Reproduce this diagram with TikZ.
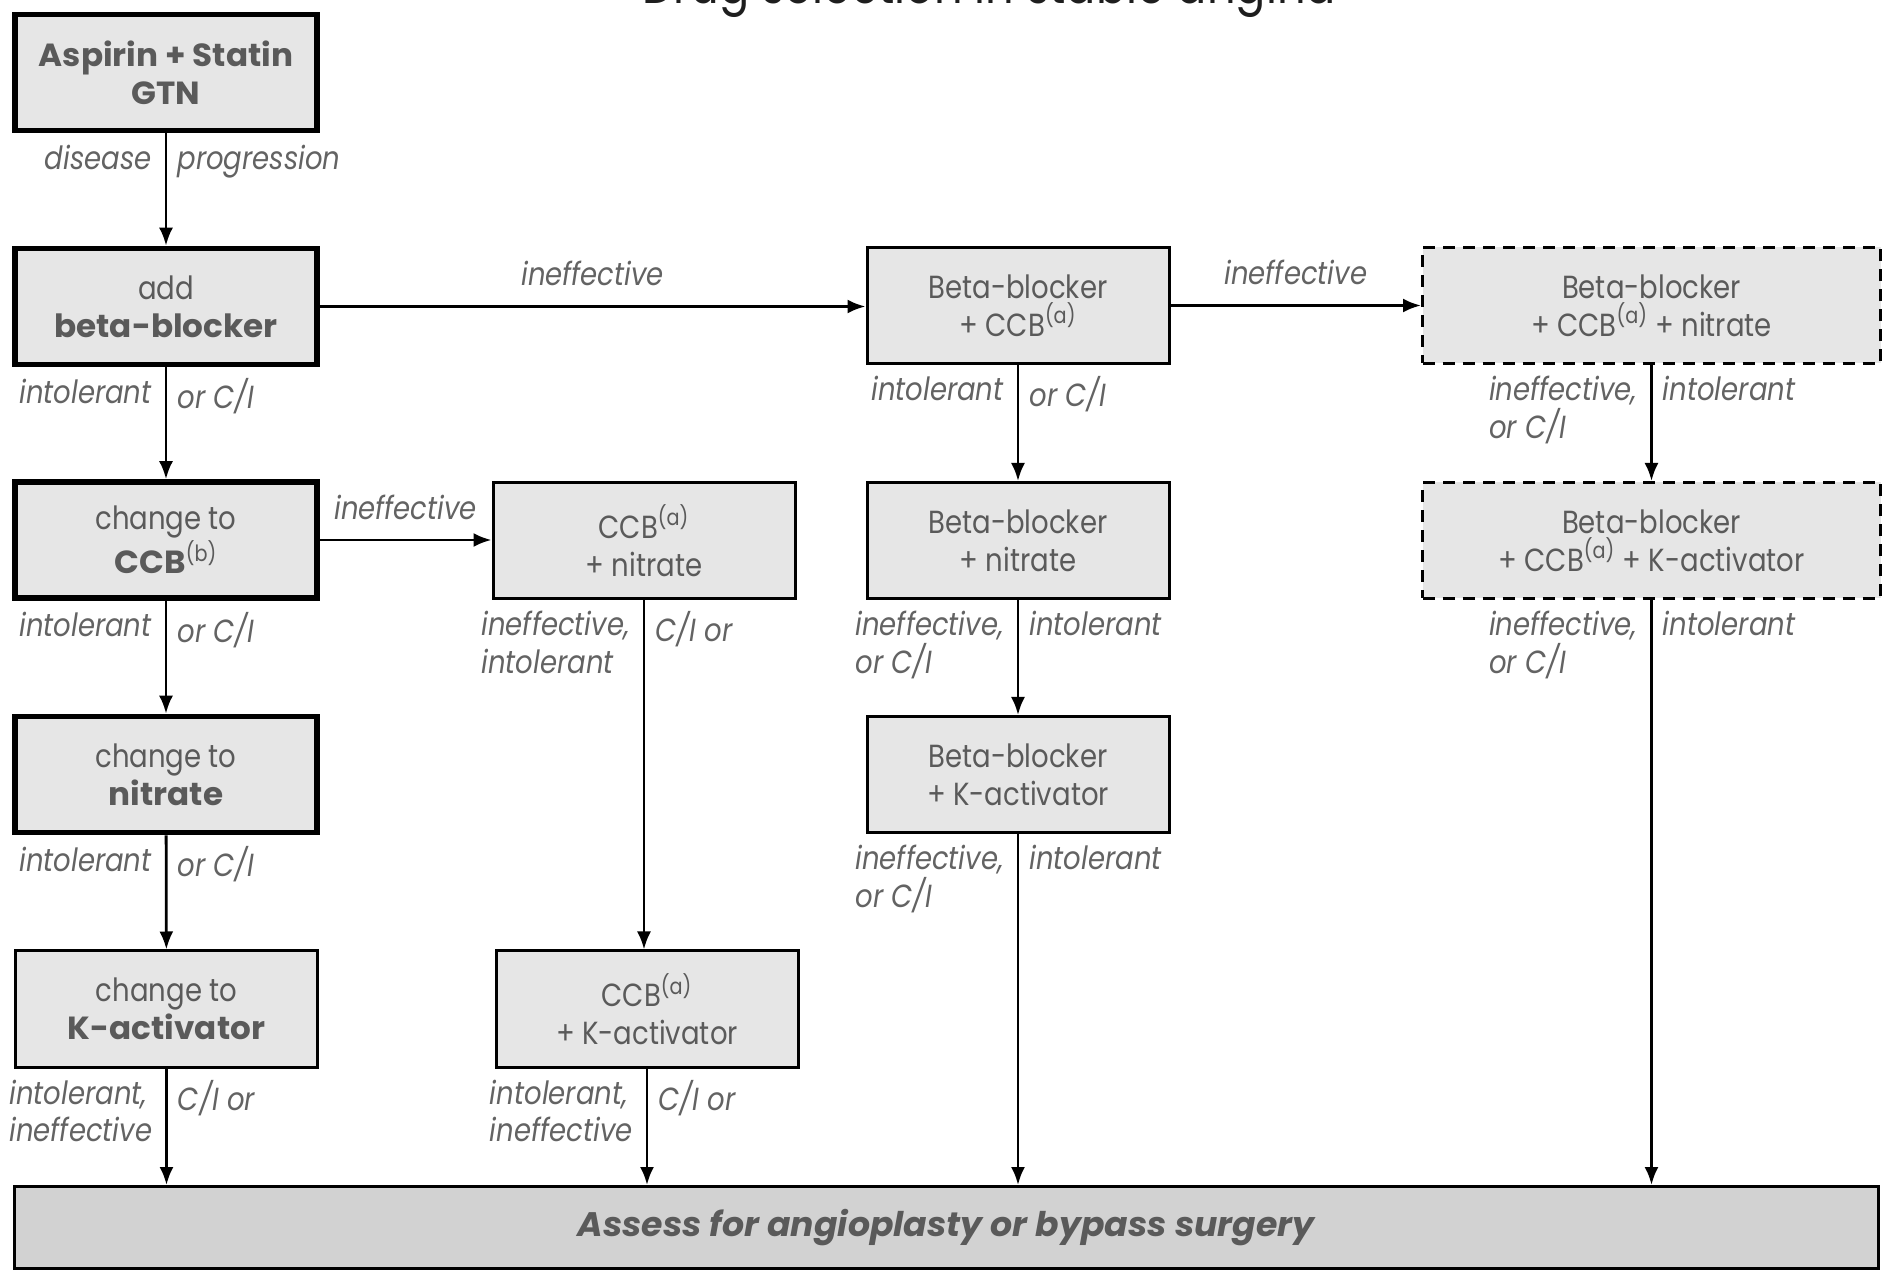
\documentclass[tikz,border=0pt]{standalone}
\usepackage{fontspec}
\setmainfont[FakeStretch=0.86]{Poppins}
\newfontfamily\wideface[FakeStretch=1.02]{Poppins}
\usetikzlibrary{arrows.meta,calc}

\definecolor{boxfill}{HTML}{E6E6E6}
\definecolor{endfill}{HTML}{D2D2D2}
\definecolor{boxtext}{HTML}{5A5A5A}
\definecolor{labtext}{HTML}{636363}
\definecolor{titletext}{HTML}{1E1E1E}

\newcommand\labstrut{\rule{0pt}{12pt}}
\newcommand\heavytxt[1]{{\wideface\bfseries #1}}

\tikzset{
  box/.style={draw=black, fill=boxfill, align=center, text=boxtext,
    minimum width=151pt, minimum height=58pt, inner sep=0pt,
    font=\fontsize{16}{19}\selectfont, line width=1.5pt},
  heavybox/.style={box, line width=2.8pt},
  dashbox/.style={box, minimum width=229pt, dash pattern=on 6pt off 4pt},
  endbox/.style={draw=black, fill=endfill, line width=1.5pt, inner sep=0pt,
    minimum width=932pt, minimum height=41pt, text=boxtext,
    font=\wideface\fontsize{17}{20}\selectfont\bfseries\itshape},
  flow/.style={line width=1.4pt, -{Latex[length=9pt,width=7pt]}},
  lab/.style={font=\fontsize{16}{18.7}\selectfont\itshape, text=labtext,
    inner sep=0pt, align=left, execute at begin node=\labstrut},
  labL/.style={lab, anchor=north east, xshift=-7pt, yshift=-5.5pt},
  labR/.style={lab, anchor=north west, xshift=5.5pt, yshift=-5.5pt},
  labT/.style={lab, anchor=south, yshift=10pt},
}

\begin{document}
\begin{tikzpicture}[x=0.5pt,y=-0.5pt]
\path[use as bounding box] (0,0) rectangle (1892,1272);
\clip (0,0) rectangle (1892,1272);

% heading, running off the top edge
\node[anchor=base, text=titletext, inner sep=0pt,
  font=\fontsize{26}{30}\selectfont] (title) at (989,4)
  {Drug selection in stable angina};

% left column: monotherapy sequence
\node[heavybox] (asp) at (166,72.5) {\heavytxt{Aspirin + Statin}\\\heavytxt{GTN}};
\node[heavybox] (bb)  at (166,306.5) {add\\\heavytxt{beta-blocker}};
\node[heavybox] (ccb) at (166,540) {change to\\\heavytxt{CCB}\textsuperscript{(b)}};
\node[heavybox] (nit) at (166,774.5) {change to\\\heavytxt{nitrate}};
\node[box] (kact) at (166.5,1009) {change to\\\heavytxt{K-activator}};

% second column: CCB combinations
\node[box] (ccbnit) at (644,540.5) {CCB\textsuperscript{(a)}\\+ nitrate};
\node[box] (ccbk)   at (647,1009) {CCB\textsuperscript{(a)}\\+ K-activator};

% third column: beta-blocker combinations
\node[box] (bbccb) at (1018,305.5) {Beta-blocker\\+ CCB\textsuperscript{(a)}};
\node[box] (bbnit) at (1018,540.5) {Beta-blocker\\+ nitrate};
\node[box] (bbk)   at (1018,774.5) {Beta-blocker\\+ K-activator};

% fourth column: triple therapy
\node[dashbox] (trinit) at (1651.5,305.5) {Beta-blocker\\+ CCB\textsuperscript{(a)} + nitrate};
\node[dashbox] (trik)   at (1651.5,540.5) {Beta-blocker\\+ CCB\textsuperscript{(a)} + K-activator};

% final step
\node[endbox] (surg) at (946,1227.5) {Assess for angioplasty or bypass surgery};

% left column arrows
\draw[flow] (asp) -- (bb);
\node[labL] (l1a) at (asp.south) {disease};
\node[labR] (l1b) at (asp.south) {progression};

\draw[flow] (bb) -- (ccb);
\node[labL] (l2a) at (bb.south) {intolerant};
\node[labR] (l2b) at (bb.south) {or C/I};

\draw[flow] (ccb) -- (nit);
\node[labL] (l3a) at (ccb.south) {intolerant};
\node[labR] (l3b) at (ccb.south) {or C/I};

\draw[flow] (nit) -- (kact);
\node[labL] (l4a) at (nit.south) {intolerant};
\node[labR] (l4b) at (nit.south) {or C/I};

\draw[flow] (kact.south) -- (kact.south |- surg.north);
\node[labL] (l5a) at (kact.south) {intolerant,\\ineffective};
\node[labR] (l5b) at (kact.south) {C/I or};

% horizontal arrows
\draw[flow] (bb.east) -- (bb.east -| bbccb.west);
\node[labT] (h1) at ($(bb.east)!0.5!(bb.east -| bbccb.west)$) {ineffective};

\draw[flow] (bbccb.east) -- (bbccb.east -| trinit.west);
\node[labT] (h2) at ($(bbccb.east)!0.5!(bbccb.east -| trinit.west)$) {ineffective};

\draw[flow] (ccb.east) -- (ccb.east -| ccbnit.west);
\node[labT] (h3) at ($(ccb.east)!0.5!(ccb.east -| ccbnit.west)$) {ineffective};

% second column arrows
\draw[flow] (ccbnit.south) -- (ccbnit.south |- ccbk.north);
\node[labL] (c1a) at (ccbnit.south) {ineffective,\\intolerant};
\node[labR] (c1b) at (ccbnit.south) {C/I or};

\draw[flow] (ccbk.south) -- (ccbk.south |- surg.north);
\node[labL] (c2a) at (ccbk.south) {intolerant,\\ineffective};
\node[labR] (c2b) at (ccbk.south) {C/I or};

% third column arrows
\draw[flow] (bbccb) -- (bbnit);
\node[labL] (b1a) at (bbccb.south) {intolerant};
\node[labR] (b1b) at (bbccb.south) {or C/I};

\draw[flow] (bbnit) -- (bbk);
\node[labL] (b2a) at (bbnit.south) {ineffective,\\or C/I};
\node[labR] (b2b) at (bbnit.south) {intolerant};

\draw[flow] (bbk.south) -- (bbk.south |- surg.north);
\node[labL] (b3a) at (bbk.south) {ineffective,\\or C/I};
\node[labR] (b3b) at (bbk.south) {intolerant};

% fourth column arrows
\draw[flow] (trinit) -- (trik);
\node[labL] (t1a) at (trinit.south) {ineffective,\\or C/I};
\node[labR] (t1b) at (trinit.south) {intolerant};

\draw[flow] (trik.south) -- (trik.south |- surg.north);
\node[labL] (t2a) at (trik.south) {ineffective,\\or C/I};
\node[labR] (t2b) at (trik.south) {intolerant};
\end{tikzpicture}
\end{document}
